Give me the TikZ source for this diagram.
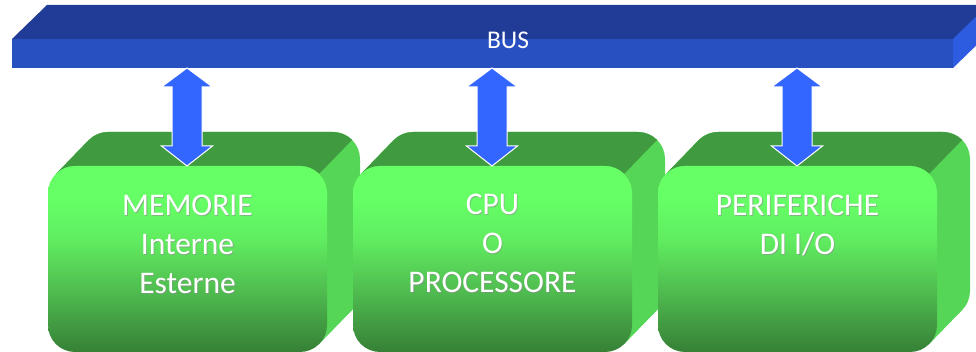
\documentclass[tikz,border=0pt]{standalone}
\usepackage{fontspec}
\setmainfont{Carlito}
\definecolor{busTop}{RGB}{32,60,150}
\definecolor{busFront}{RGB}{40,80,192}
\definecolor{busSide}{RGB}{46,92,224}
\definecolor{gTop}{RGB}{102,255,102}
\definecolor{gUp}{RGB}{96,236,96}
\definecolor{gMid}{RGB}{80,190,80}
\definecolor{gBot}{RGB}{54,128,54}
\definecolor{gSide}{RGB}{86,214,86}
\definecolor{gLid}{RGB}{64,155,64}
\definecolor{arrBlue}{RGB}{51,102,255}
\pgfdeclareverticalshading{frontsh}{100bp}{color(0bp)=(gBot); color(25bp)=(gBot); color(42bp)=(gMid); color(55bp)=(gUp); color(66bp)=(gTop); color(100bp)=(gTop)}
\tikzset{
  boxtext/.style={text=white, font=\fontsize{31.5}{39}\selectfont, align=center, anchor=base, inner sep=0pt},
  shadowtext/.style={boxtext, text=black!45, opacity=0.6},
  dblarrow/.style={fill=arrBlue, draw=white, line width=1pt, line join=miter}
}
\newcommand\greenbox[1]{%
  \begin{scope}[shift={(#1,0)}]
    \fill[gSide, rounded corners=27] (33,34) rectangle (312,220);
    \fill[gSide] (7.91,178.09) -- (40.91,212.09) -- (304.09,41.91) -- (271.09,7.91) -- cycle;
    \fill[gLid] (7.91,178.09) -- (40.91,212.09) arc[start angle=135,end angle=90,radius=27]
      -- (285,220) arc[start angle=90,end angle=45,radius=27]
      -- (271.09,178.09) arc[start angle=45,end angle=90,radius=27]
      -- (27,186) arc[start angle=90,end angle=135,radius=27] -- cycle;
    \shade[shading=frontsh, rounded corners=27] (0,0) rectangle (279,186);
  \end{scope}}
\newcommand\dblarrowat[1]{%
  \draw[dblarrow] (#1,284) -- (#1+25.5,265) -- (#1+15,265) -- (#1+15,206) -- (#1+25.5,206)
    -- (#1,186) -- (#1-25.5,206) -- (#1-15,206) -- (#1-15,265) -- (#1-25.5,265) -- cycle;}
\begin{document}
\begin{tikzpicture}[x=1pt,y=1pt]
\useasboundingbox (0,0) rectangle (976,352);
\clip (0,0) rectangle (976,352);
% BUS bar
\fill[busTop] (12,313) -- (47,347) -- (990,347) -- (955,313) -- cycle;
\fill[busSide] (953,313) -- (988,347) -- (988,318) -- (953,284) -- cycle;
\fill[busFront] (12,284) rectangle (953,313);
\node[text=white, font=\fontsize{25.5}{28}\selectfont, anchor=base, inner sep=0pt] (bus) at (508,303) {BUS};
% boxes
\greenbox{48}
\greenbox{353}
\greenbox{658}
% arrows
\dblarrowat{187}
\dblarrowat{492}
\dblarrowat{797}
% texts
\node[shadowtext] (memS) at (188.3,57.2) {MEMORIE\\Interne\\Esterne};
\node[boxtext] (mem) at (187.5,58) {MEMORIE\\Interne\\Esterne};
\node[shadowtext] (cpuS) at (493.3,58.2) {CPU\\O\\PROCESSORE};
\node[boxtext] (cpu) at (492.5,59) {CPU\\O\\PROCESSORE};
\node[shadowtext] (perS) at (798.3,96.2) {PERIFERICHE\\DI I/O};
\node[boxtext] (per) at (797.5,97) {PERIFERICHE\\DI I/O};
\end{tikzpicture}
\end{document}
